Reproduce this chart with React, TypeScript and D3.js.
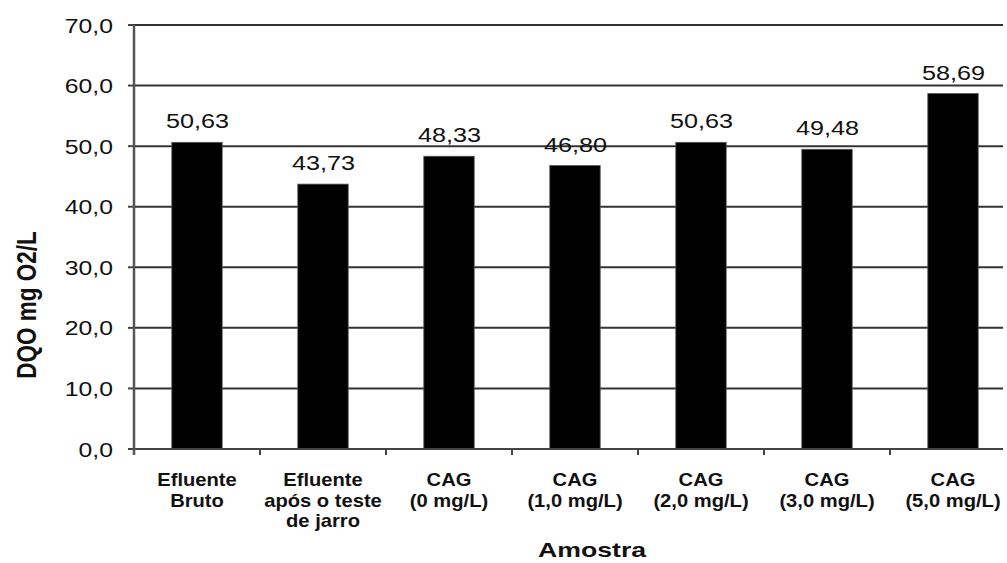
import React from "react";
import * as d3 from "d3";

const categories: string[][] = [
  ["Efluente", "Bruto"],
  ["Efluente", "após o teste", "de jarro"],
  ["CAG", "(0 mg/L)"],
  ["CAG", "(1,0 mg/L)"],
  ["CAG", "(2,0 mg/L)"],
  ["CAG", "(3,0 mg/L)"],
  ["CAG", "(5,0 mg/L)"],
];
const values: number[] = [50.63, 43.73, 48.33, 46.8, 50.63, 49.48, 58.69];
const yTicks: number[] = [0, 10, 20, 30, 40, 50, 60, 70];
const yTitle = "DQO mg O2/L";
const xTitle = "Amostra";

const W = 1007;
const H = 563;
const left = 134;
const gridRight = 1003;
const bandRight = 1016;
const top = 25;
const bottom = 449;
const font = "'Liberation Sans', Arial, sans-serif";

export default function App() {
  const ids = categories.map((_, i) => String(i));
  const x = d3.scaleBand<string>().domain(ids).range([left, bandRight]).padding(0);
  const y = d3.scaleLinear().domain([0, 70]).range([bottom, top]);
  const barW = x.bandwidth() * 0.4;
  const fmtTick = (v: number) => d3.format(".1f")(v).replace(".", ",");
  const fmtVal = (v: number) => d3.format(".2f")(v).replace(".", ",");

  return (
    <div style={{ position: "absolute", left: 0, top: 0 }}>
      <svg width={W} height={H} style={{ display: "block", background: "#fff" }} fontFamily={font}>
        {/* gridlines */}
        {yTicks.slice(1).map((t) => (
          <line key={"g" + t} x1={left} x2={gridRight} y1={y(t)} y2={y(t)} stroke="#333" strokeWidth={2} />
        ))}
        {/* y ticks */}
        {yTicks.map((t) => (
          <line key={"yt" + t} x1={left - 6} x2={left} y1={y(t)} y2={y(t)} stroke="#444" strokeWidth={2} />
        ))}
        {/* y tick labels */}
        {yTicks.map((t) => (
          <text
            key={"yl" + t}
            transform={`translate(113,${y(t) + 7.5}) scale(1.18,1)`}
            textAnchor="end"
            fontSize={21}
            fill="#111"
          >
            {fmtTick(t)}
          </text>
        ))}
        {/* bars */}
        {values.map((v, i) => (
          <rect
            key={"b" + i}
            x={(x(String(i)) as number) + x.bandwidth() / 2 - barW / 2}
            y={y(v)}
            width={barW}
            height={y(0) - y(v)}
            fill="#000"
            stroke="#555"
            strokeWidth={0.8}
          />
        ))}
        {/* value labels */}
        {values.map((v, i) => (
          <text
            key={"v" + i}
            transform={`translate(${(x(String(i)) as number) + x.bandwidth() / 2 + 0.5},${y(v) - 14}) scale(1.2,1)`}
            textAnchor="middle"
            fontSize={21}
            fill="#111"
          >
            {fmtVal(v)}
          </text>
        ))}
        {/* x axis */}
        <line x1={left} x2={gridRight} y1={bottom} y2={bottom} stroke="#444" strokeWidth={2} />
        {ids.map((id) => (
          <line
            key={"xt" + id}
            x1={x(id) as number}
            x2={x(id) as number}
            y1={bottom}
            y2={bottom + 6}
            stroke="#444"
            strokeWidth={2}
          />
        ))}
        {/* y axis */}
        <line x1={left} x2={left} y1={top} y2={bottom + 6} stroke="#555" strokeWidth={2.5} />
        {/* category labels */}
        {categories.map((lines, i) =>
          lines.map((ln, j) => (
            <text
              key={"c" + i + "-" + j}
              transform={`translate(${(x(String(i)) as number) + x.bandwidth() / 2},${486 + j * 20.5}) scale(1.12,1)`}
              textAnchor="middle"
              fontSize={18}
              fontWeight="bold"
              fill="#111"
            >
              {ln}
            </text>
          ))
        )}
        {/* axis titles */}
        <text
          transform={`translate(592,557) scale(1.27,1)`}
          textAnchor="middle"
          fontSize={21}
          fontWeight="bold"
          fill="#111"
        >
          {xTitle}
        </text>
        <text
          transform={`translate(36,305) scale(1.2,1) rotate(-90)`}
          textAnchor="middle"
          fontSize={22.5}
          fontWeight="bold"
          fill="#111"
        >
          {yTitle}
        </text>
      </svg>
    </div>
  );
}
